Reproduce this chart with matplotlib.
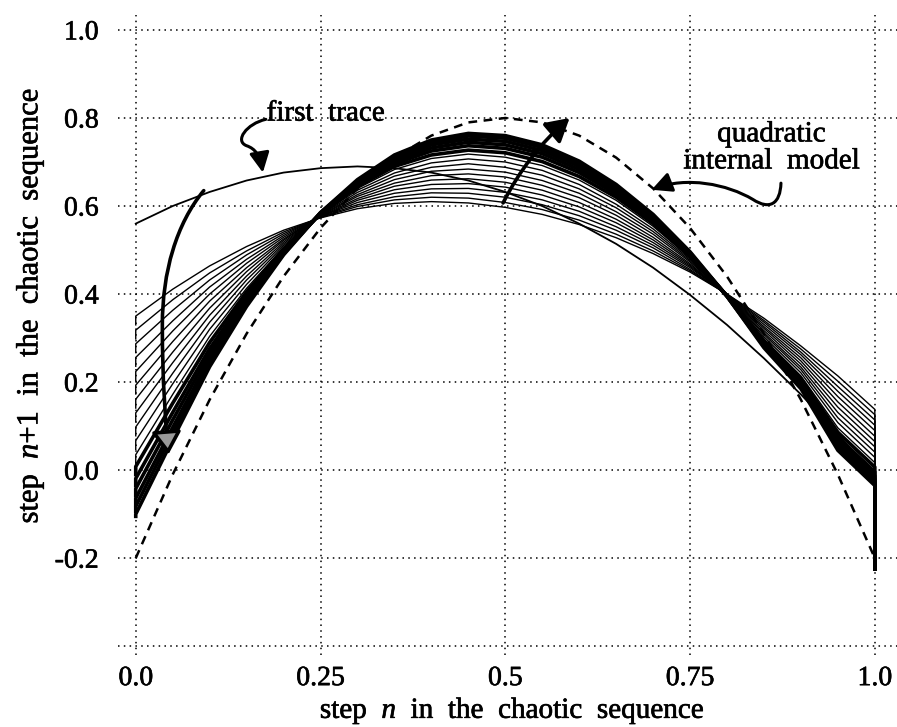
import matplotlib.pyplot as plt
import matplotlib.patheffects as pe
from matplotlib.path import Path
from matplotlib.patches import FancyArrowPatch

plt.rcParams['font.family'] = ['Liberation Serif', 'DejaVu Serif']
plt.rcParams['mathtext.fontset'] = 'custom'
plt.rcParams['mathtext.rm'] = 'Liberation Serif'
plt.rcParams['mathtext.it'] = 'Liberation Serif:italic'

x_grid = [0.0, 0.05, 0.1, 0.15, 0.2, 0.25, 0.3, 0.35, 0.4, 0.45, 0.5,
          0.55, 0.6, 0.65, 0.7, 0.75, 0.8, 0.85, 0.9, 0.95, 1.0]

first_trace = [0.560, 0.600, 0.632, 0.658, 0.676, 0.686, 0.690, 0.686, 0.676, 0.658, 0.632,
               0.600, 0.560, 0.514, 0.460, 0.398, 0.330, 0.254, 0.172, 0.082, -0.016]

internal_model = [-0.20, -0.01, 0.16, 0.31, 0.44, 0.55, 0.64, 0.71, 0.76, 0.79, 0.80,
                  0.79, 0.76, 0.71, 0.64, 0.55, 0.44, 0.31, 0.16, -0.01, -0.20]

# early traces (thin lines, spread out)
thin_traces = [
    [0.350, 0.411, 0.464, 0.508, 0.545, 0.573, 0.594, 0.606, 0.610, 0.607, 0.597, 0.581, 0.558, 0.528, 0.492, 0.450, 0.400, 0.345, 0.282, 0.214, 0.138],
    [0.318, 0.387, 0.448, 0.498, 0.541, 0.574, 0.599, 0.614, 0.620, 0.618, 0.608, 0.592, 0.568, 0.536, 0.498, 0.453, 0.400, 0.340, 0.275, 0.202, 0.126],
    [0.287, 0.363, 0.432, 0.489, 0.537, 0.575, 0.603, 0.621, 0.630, 0.629, 0.620, 0.603, 0.578, 0.545, 0.505, 0.456, 0.399, 0.336, 0.268, 0.190, 0.114],
    [0.256, 0.339, 0.416, 0.479, 0.533, 0.576, 0.608, 0.629, 0.639, 0.640, 0.631, 0.614, 0.588, 0.553, 0.511, 0.460, 0.399, 0.331, 0.262, 0.179, 0.102],
    [0.224, 0.316, 0.400, 0.470, 0.529, 0.576, 0.613, 0.637, 0.649, 0.651, 0.643, 0.625, 0.598, 0.562, 0.517, 0.463, 0.399, 0.326, 0.255, 0.167, 0.090],
    [0.193, 0.292, 0.384, 0.460, 0.525, 0.577, 0.617, 0.645, 0.659, 0.662, 0.654, 0.636, 0.608, 0.570, 0.523, 0.466, 0.398, 0.322, 0.248, 0.155, 0.077],
    [0.161, 0.268, 0.368, 0.451, 0.522, 0.578, 0.622, 0.652, 0.669, 0.673, 0.666, 0.647, 0.619, 0.579, 0.529, 0.469, 0.398, 0.317, 0.241, 0.143, 0.065],
    [0.130, 0.244, 0.352, 0.441, 0.518, 0.579, 0.626, 0.660, 0.679, 0.684, 0.677, 0.658, 0.629, 0.587, 0.536, 0.473, 0.398, 0.312, 0.234, 0.131, 0.053],
    [0.098, 0.220, 0.336, 0.432, 0.514, 0.580, 0.631, 0.668, 0.688, 0.696, 0.688, 0.670, 0.639, 0.596, 0.542, 0.476, 0.397, 0.308, 0.228, 0.119, 0.041],
    [0.067, 0.196, 0.320, 0.422, 0.510, 0.581, 0.636, 0.675, 0.698, 0.707, 0.700, 0.681, 0.649, 0.604, 0.548, 0.479, 0.397, 0.303, 0.221, 0.108, 0.029],
    [0.035, 0.172, 0.304, 0.413, 0.506, 0.581, 0.640, 0.683, 0.708, 0.718, 0.711, 0.692, 0.659, 0.613, 0.554, 0.482, 0.397, 0.298, 0.214, 0.096, 0.017],
]
thin_hooks = [0.330, 0.298, 0.267, 0.236, 0.204, 0.173, 0.141, 0.110, 0.078, 0.047, 0.015]

# late traces (converged, drawn heavy so they merge into a black band)
band_traces = [
    [0.008, 0.152, 0.290, 0.405, 0.502, 0.582, 0.644, 0.690, 0.716, 0.727, 0.721, 0.701, 0.667, 0.620, 0.560, 0.485, 0.396, 0.294, 0.208, 0.086, 0.007],
    [-0.019, 0.131, 0.276, 0.397, 0.499, 0.583, 0.648, 0.696, 0.725, 0.737, 0.731, 0.711, 0.676, 0.627, 0.565, 0.488, 0.396, 0.290, 0.202, 0.075, -0.004],
    [-0.042, 0.114, 0.265, 0.390, 0.496, 0.583, 0.651, 0.702, 0.732, 0.745, 0.739, 0.719, 0.683, 0.633, 0.569, 0.490, 0.396, 0.287, 0.198, 0.067, -0.013],
    [-0.064, 0.097, 0.253, 0.383, 0.493, 0.584, 0.655, 0.707, 0.739, 0.752, 0.747, 0.726, 0.690, 0.639, 0.574, 0.492, 0.395, 0.283, 0.193, 0.059, -0.021],
    [-0.082, 0.084, 0.244, 0.377, 0.491, 0.585, 0.657, 0.712, 0.744, 0.759, 0.754, 0.733, 0.696, 0.644, 0.577, 0.494, 0.395, 0.281, 0.189, 0.052, -0.028],
    [-0.100, 0.070, 0.235, 0.372, 0.489, 0.585, 0.660, 0.716, 0.750, 0.765, 0.760, 0.739, 0.702, 0.649, 0.581, 0.496, 0.395, 0.278, 0.185, 0.045, -0.035],
]
band_hooks = [-0.010, -0.035, -0.058, -0.078, -0.094, -0.105]
edge_drop = -0.225

x_ticks = [0.0, 0.25, 0.5, 0.75, 1.0]
x_tick_labels = ["0.0", "0.25", "0.5", "0.75", "1.0"]
y_ticks = [-0.4, -0.2, 0.0, 0.2, 0.4, 0.6, 0.8, 1.0]
y_tick_labels = ["", "-0.2", "0.0", "0.2", "0.4", "0.6", "0.8", "1.0"]

# slightly heavier text, like the scanned original
ink = [pe.withStroke(linewidth=0.45, foreground='black')]

fig = plt.figure(figsize=(8.97, 7.27), dpi=100)
ax = fig.add_axes([118 / 897, 72 / 727, 779 / 897, 640 / 727])

x_full = [0.0] + x_grid + [1.0]
for hook, row in zip(thin_hooks, thin_traces):
    ax.plot(x_full, [hook] + row + [edge_drop], color='black', lw=1.0)
for hook, row in zip(band_hooks, band_traces):
    ax.plot(x_full, [hook] + row + [edge_drop], color='black', lw=2.6)
ax.plot(x_grid, first_trace, color='black', lw=1.3)
ax.plot(x_grid, internal_model, color='black', lw=1.8, ls=(0, (3.5, 2.6)))

ax.set_xlim(-0.024, 1.03)
ax.set_ylim(-0.42, 1.034)
ax.set_xticks(x_ticks, x_tick_labels)
ax.set_yticks(y_ticks, y_tick_labels)
ax.tick_params(axis='both', length=0, labelsize=20)
ax.tick_params(axis='x', pad=8)
ax.tick_params(axis='y', pad=14)
for lab in ax.get_xticklabels() + ax.get_yticklabels():
    lab.set_path_effects(ink)
ax.grid(True, color='black', lw=1.1, ls=(0, (1, 2.8)))
for s in ax.spines.values():
    s.set_visible(False)

fig.text(512 / 897, 1 - 711 / 727, "step  $n$  in  the  chaotic  sequence",
         fontsize=21, ha='center', va='center', path_effects=ink)
fig.text(30 / 897, 1 - 306 / 727, r"step  $n$+$\mathit{1}$  in  the  chaotic  sequence",
         fontsize=22, ha='center', va='center', rotation=90, path_effects=ink)

# annotations
ax.text(0.177, 0.81, "first  trace", fontsize=21, va='center', path_effects=ink)
ax.text(0.86, 0.732, "quadratic\ninternal  model", fontsize=21, ha='center', va='center',
        linespacing=1.05, path_effects=ink)

first_path = Path([(0.176, 0.797), (0.150, 0.787), (0.133, 0.748), (0.150, 0.737),
                   (0.162, 0.730), (0.168, 0.715), (0.172, 0.676)],
                  [Path.MOVETO, Path.CURVE4, Path.CURVE4, Path.CURVE4,
                   Path.CURVE4, Path.CURVE4, Path.CURVE4])
ax.add_patch(FancyArrowPatch(path=first_path, arrowstyle='-|>,head_length=0.6,head_width=0.3',
                             mutation_scale=20, lw=2.2, color='black'))

model_path = Path([(0.873, 0.652), (0.872, 0.605), (0.858, 0.590), (0.835, 0.615),
                   (0.800, 0.650), (0.745, 0.668), (0.698, 0.637)],
                  [Path.MOVETO, Path.CURVE4, Path.CURVE4, Path.CURVE4,
                   Path.CURVE4, Path.CURVE4, Path.CURVE4])
ax.add_patch(FancyArrowPatch(path=model_path, arrowstyle='-|>,head_length=0.6,head_width=0.3',
                             mutation_scale=20, lw=2.2, color='black'))

trend_path = Path([(0.092, 0.635), (0.055, 0.56), (0.036, 0.45), (0.036, 0.33),
                   (0.036, 0.20), (0.040, 0.12), (0.044, 0.035)],
                  [Path.MOVETO, Path.CURVE4, Path.CURVE4, Path.CURVE4,
                   Path.CURVE4, Path.CURVE4, Path.CURVE4])
ax.add_patch(FancyArrowPatch(path=trend_path, arrowstyle='-|>,head_length=0.7,head_width=0.45',
                             mutation_scale=20, lw=2.6, edgecolor='black', facecolor='0.6',
                             zorder=4))

ax.annotate("", xy=(0.587, 0.80), xytext=(0.497, 0.607),
            arrowprops=dict(arrowstyle='-|>,head_length=0.7,head_width=0.4', lw=2.6,
                            color='black', mutation_scale=20,
                            connectionstyle='arc3,rad=-0.1', shrinkA=0, shrinkB=0))

fig.savefig("out.png", dpi=100)
